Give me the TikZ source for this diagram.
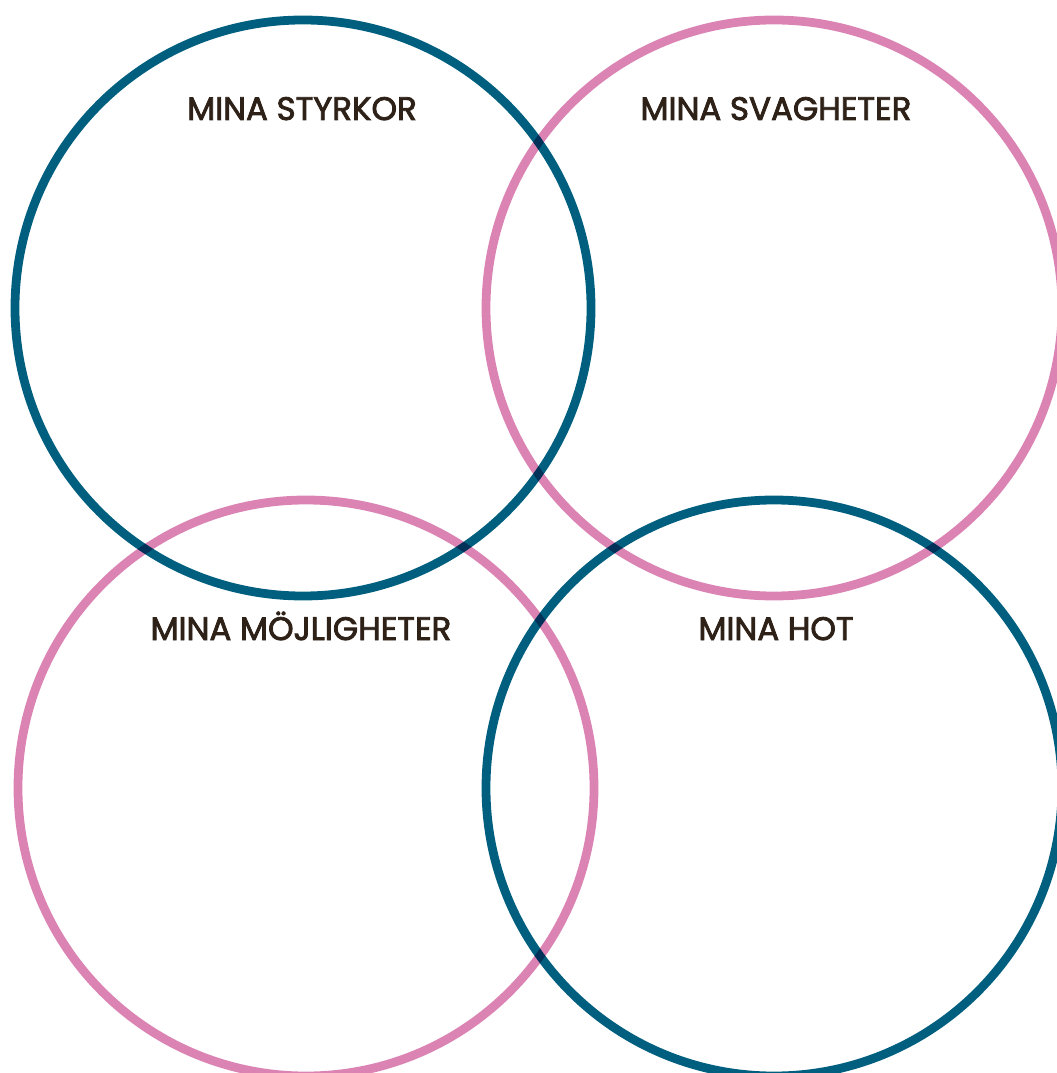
\documentclass[tikz,border=0pt]{standalone}
\usepackage{fontspec}
\setmainfont{Poppins}
\newfontfamily\headfont{Poppins}[UprightFeatures={FakeBold=2.5}]
\usepackage{xcolor}
\usepackage{tikz}
\usetikzlibrary{positioning}

\definecolor{swotblue}{HTML}{005F7F}
\definecolor{swotpink}{HTML}{DB84B4}
\definecolor{swottext}{HTML}{2E2118}

\begin{document}
\begin{tikzpicture}[
  ring/.style={circle, draw, minimum size=115.2mm, inner sep=0pt, line width=5pt},
  bluering/.style={ring, draw=swotblue},
  pinkring/.style={ring, draw=swotpink},
  heading/.style={font=\headfont\fontsize{18.5}{22}\selectfont, text=swottext,
                  inner sep=0pt, anchor=base},
]
\useasboundingbox (0,0) rectangle (21.12,-21.46);
\begin{scope}[blend group=multiply]
  \node[bluering] (S) at (6.06,-6.16)   {};
  \node[pinkring] (W) at (15.48,-6.16)  {};
  \node[pinkring] (O) at (6.12,-15.76)  {};
  \node[bluering] (T) at (15.48,-15.76) {};
\end{scope}
\node[heading] (Slbl) at (6.04,-2.40)  {MINA STYRKOR};
\node[heading] (Wlbl) at (15.52,-2.40) {MINA SVAGHETER};
\node[heading] (Olbl) at (6.02,-12.80) {MINA MÖJLIGHETER};
\node[heading] (Tlbl) at (15.52,-12.80) {MINA HOT};
\end{tikzpicture}
\end{document}
